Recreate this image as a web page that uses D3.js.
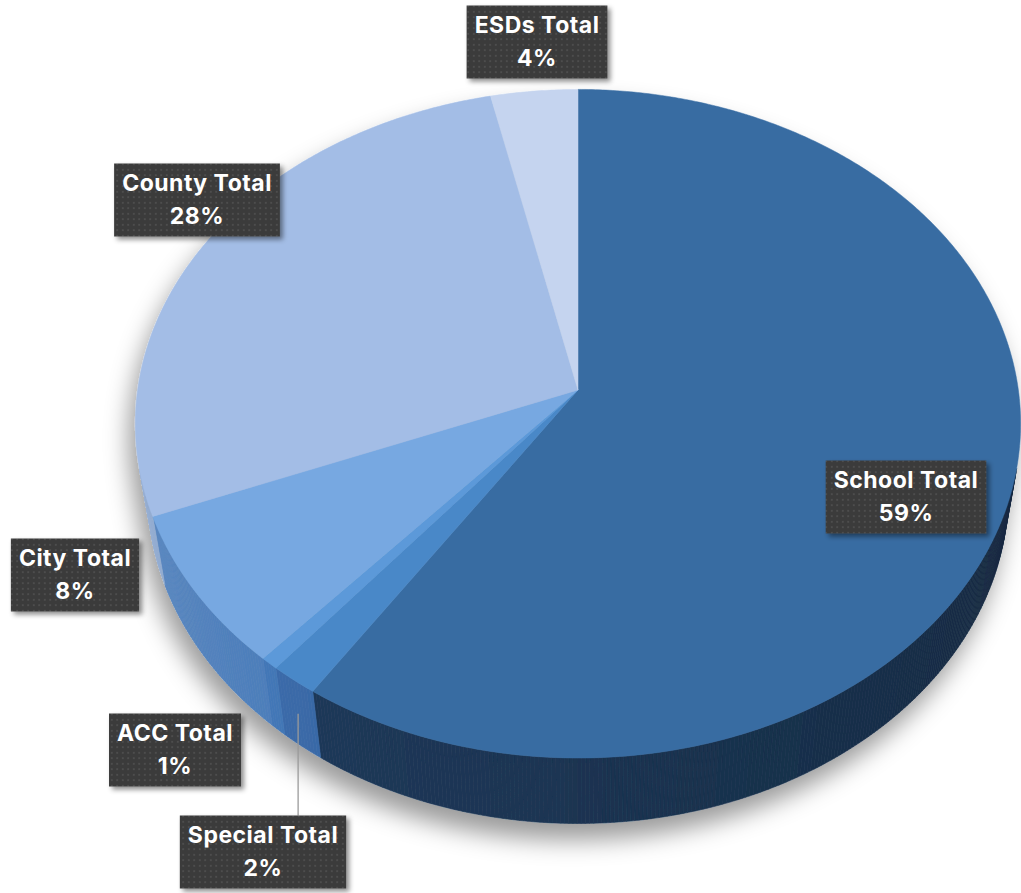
<!DOCTYPE html>
<meta charset="utf-8">
<script src="https://d3js.org/d3.v7.min.js"></script>
<style>
  body { margin: 0; background: #fff; }
</style>
<div id="chart"></div>
<script>
// slices, clockwise from 12 o'clock
var categories = ["School Total", "Special Total", "ACC Total", "City Total", "County Total", "ESDs Total"];
// share in percent (label shows rounded value)
var shares = [59.3, 1.6, 0.6, 7.5, 27.5, 3.5];

var topColors  = ["#386ca2", "#4a88c8", "#5b99d9", "#77a8e1", "#a3bde6", "#c5d4ef"];
var wallColors = ["#1b3452", "#35619a", "#3d6ca6", "#4272ad", "#6d8fc0", "#9fb3d6"];

// label box centres
var labelAt = [[906, 497], [263, 852], [175, 750], [75, 575], [197, 200], [537, 42]];

var W = 1021, H = 893;

var svg = d3.select("#chart").append("svg")
    .attr("width", W)
    .attr("height", H);

var defs = svg.append("defs");

// soft shadow under the pie
var pieShadow = defs.append("filter").attr("id", "pieShadow")
    .attr("x", "-20%").attr("y", "-20%").attr("width", "140%").attr("height", "140%");
pieShadow.append("feDropShadow")
    .attr("dx", -6).attr("dy", 16).attr("stdDeviation", 12)
    .attr("flood-color", "#000").attr("flood-opacity", 0.4);

var boxShadow = defs.append("filter").attr("id", "boxShadow")
    .attr("x", "-20%").attr("y", "-20%").attr("width", "140%").attr("height", "140%");
boxShadow.append("feDropShadow")
    .attr("dx", 3).attr("dy", 3).attr("stdDeviation", 2.5)
    .attr("flood-color", "#000").attr("flood-opacity", 0.45);

// dotted fill of the label boxes
var pat = defs.append("pattern").attr("id", "dots")
    .attr("width", 5.5).attr("height", 5.5)
    .attr("patternUnits", "userSpaceOnUse");
pat.append("rect").attr("width", 5.5).attr("height", 5.5).attr("fill", "#3b3b3b");
pat.append("rect").attr("x", 2).attr("y", 2).attr("width", 1.5).attr("height", 1.5).attr("fill", "#575757");

// perspective projection of a tilted disc
var cx = 578, cy = 390, f = 2880, D = 6.54, depth = 0.2444;
var sA = 0.7514, cA = Math.sqrt(1 - sA * sA);
function project(t, r, yUp) {
  var x = r * Math.sin(t), z = r * Math.cos(t);
  var v = yUp * cA + z * sA;
  var w = D + z * cA - yUp * sA;
  return [cx + f * x / w, cy - f * v / w];
}

var arcs = d3.pie().sort(null).value(function(d) { return d; })(shares);

var line = d3.line();
var step = Math.PI / 360;

var pie = svg.append("g").attr("filter", "url(#pieShadow)");

// outer walls (only the part facing the camera)
var visMin = Math.acos(-1 / (D * cA)), visMax = 2 * Math.PI - visMin;
arcs.forEach(function(a, i) {
  var a0 = Math.max(a.startAngle, visMin), a1 = Math.min(a.endAngle, visMax);
  if (a1 <= a0) return;
  var n = Math.max(1, Math.ceil((a1 - a0) / step));
  for (var k = 0; k < n; k++) {
    var t0 = a0 + (a1 - a0) * k / n, t1 = a0 + (a1 - a0) * (k + 1) / n;
    var tm = (t0 + t1) / 2;
    var shade = 0.78 + 0.42 * (tm - visMin) / (visMax - visMin);
    var col = d3.hsl(wallColors[i]);
    col.l = Math.min(0.95, col.l * shade);
    var pts = [project(t0, 1, 0), project(t1, 1, 0), project(t1, 1, -depth), project(t0, 1, -depth)];
    pie.append("path")
      .attr("d", line(pts) + "Z")
      .attr("fill", col.toString())
      .attr("stroke", col.toString())
      .attr("stroke-width", 0.6);
  }
});

// top faces
arcs.forEach(function(a, i) {
  var pts = [project(0, 0, 0)];
  var n = Math.max(2, Math.ceil((a.endAngle - a.startAngle) / step));
  for (var k = 0; k <= n; k++) {
    var t = a.startAngle + (a.endAngle - a.startAngle) * k / n;
    pts.push(project(t, 1, 0));
  }
  pie.append("path")
    .attr("d", line(pts) + "Z")
    .attr("fill", topColors[i])
    .attr("stroke", topColors[i])
    .attr("stroke-width", 0.5);
});

// leader line for the Special slice
var sp = arcs[1];
var lp = project((sp.startAngle + sp.endAngle) / 2, 1, -depth * 0.5);
svg.append("line")
  .attr("x1", lp[0]).attr("y1", lp[1])
  .attr("x2", lp[0]).attr("y2", labelAt[1][1] - 36.5)
  .attr("stroke", "#9a9a9a")
  .attr("stroke-width", 1.3);

// data labels
var lab = svg.selectAll(".lab")
  .data(arcs)
  .enter()
  .append("g")
    .attr("class", "lab")
    .attr("transform", function(d, i) { return "translate(" + labelAt[i][0] + "," + labelAt[i][1] + ")"; });

var box = lab.append("rect")
  .attr("fill", "url(#dots)")
  .attr("filter", "url(#boxShadow)");

function labelText(sel) {
  sel.attr("text-anchor", "middle")
    .style("font-family", "Inter, 'Open Sans', sans-serif")
    .style("font-weight", "bold")
    .style("font-size", "23px")
    .style("letter-spacing", "0.5px")
    .style("fill", "#fff");
}

var t1 = lab.append("text")
  .attr("y", -9)
  .call(labelText)
  .text(function(d, i) { return categories[i]; });

lab.append("text")
  .attr("y", 24)
  .call(labelText)
  .text(function(d) { return Math.round(d.data) + "%"; });

t1.each(function(d, i) {
  var tw = this.getComputedTextLength() + 16;
  d3.select(box.nodes()[i])
    .attr("x", -tw / 2).attr("y", -36.5)
    .attr("width", tw).attr("height", 73);
});
</script>
